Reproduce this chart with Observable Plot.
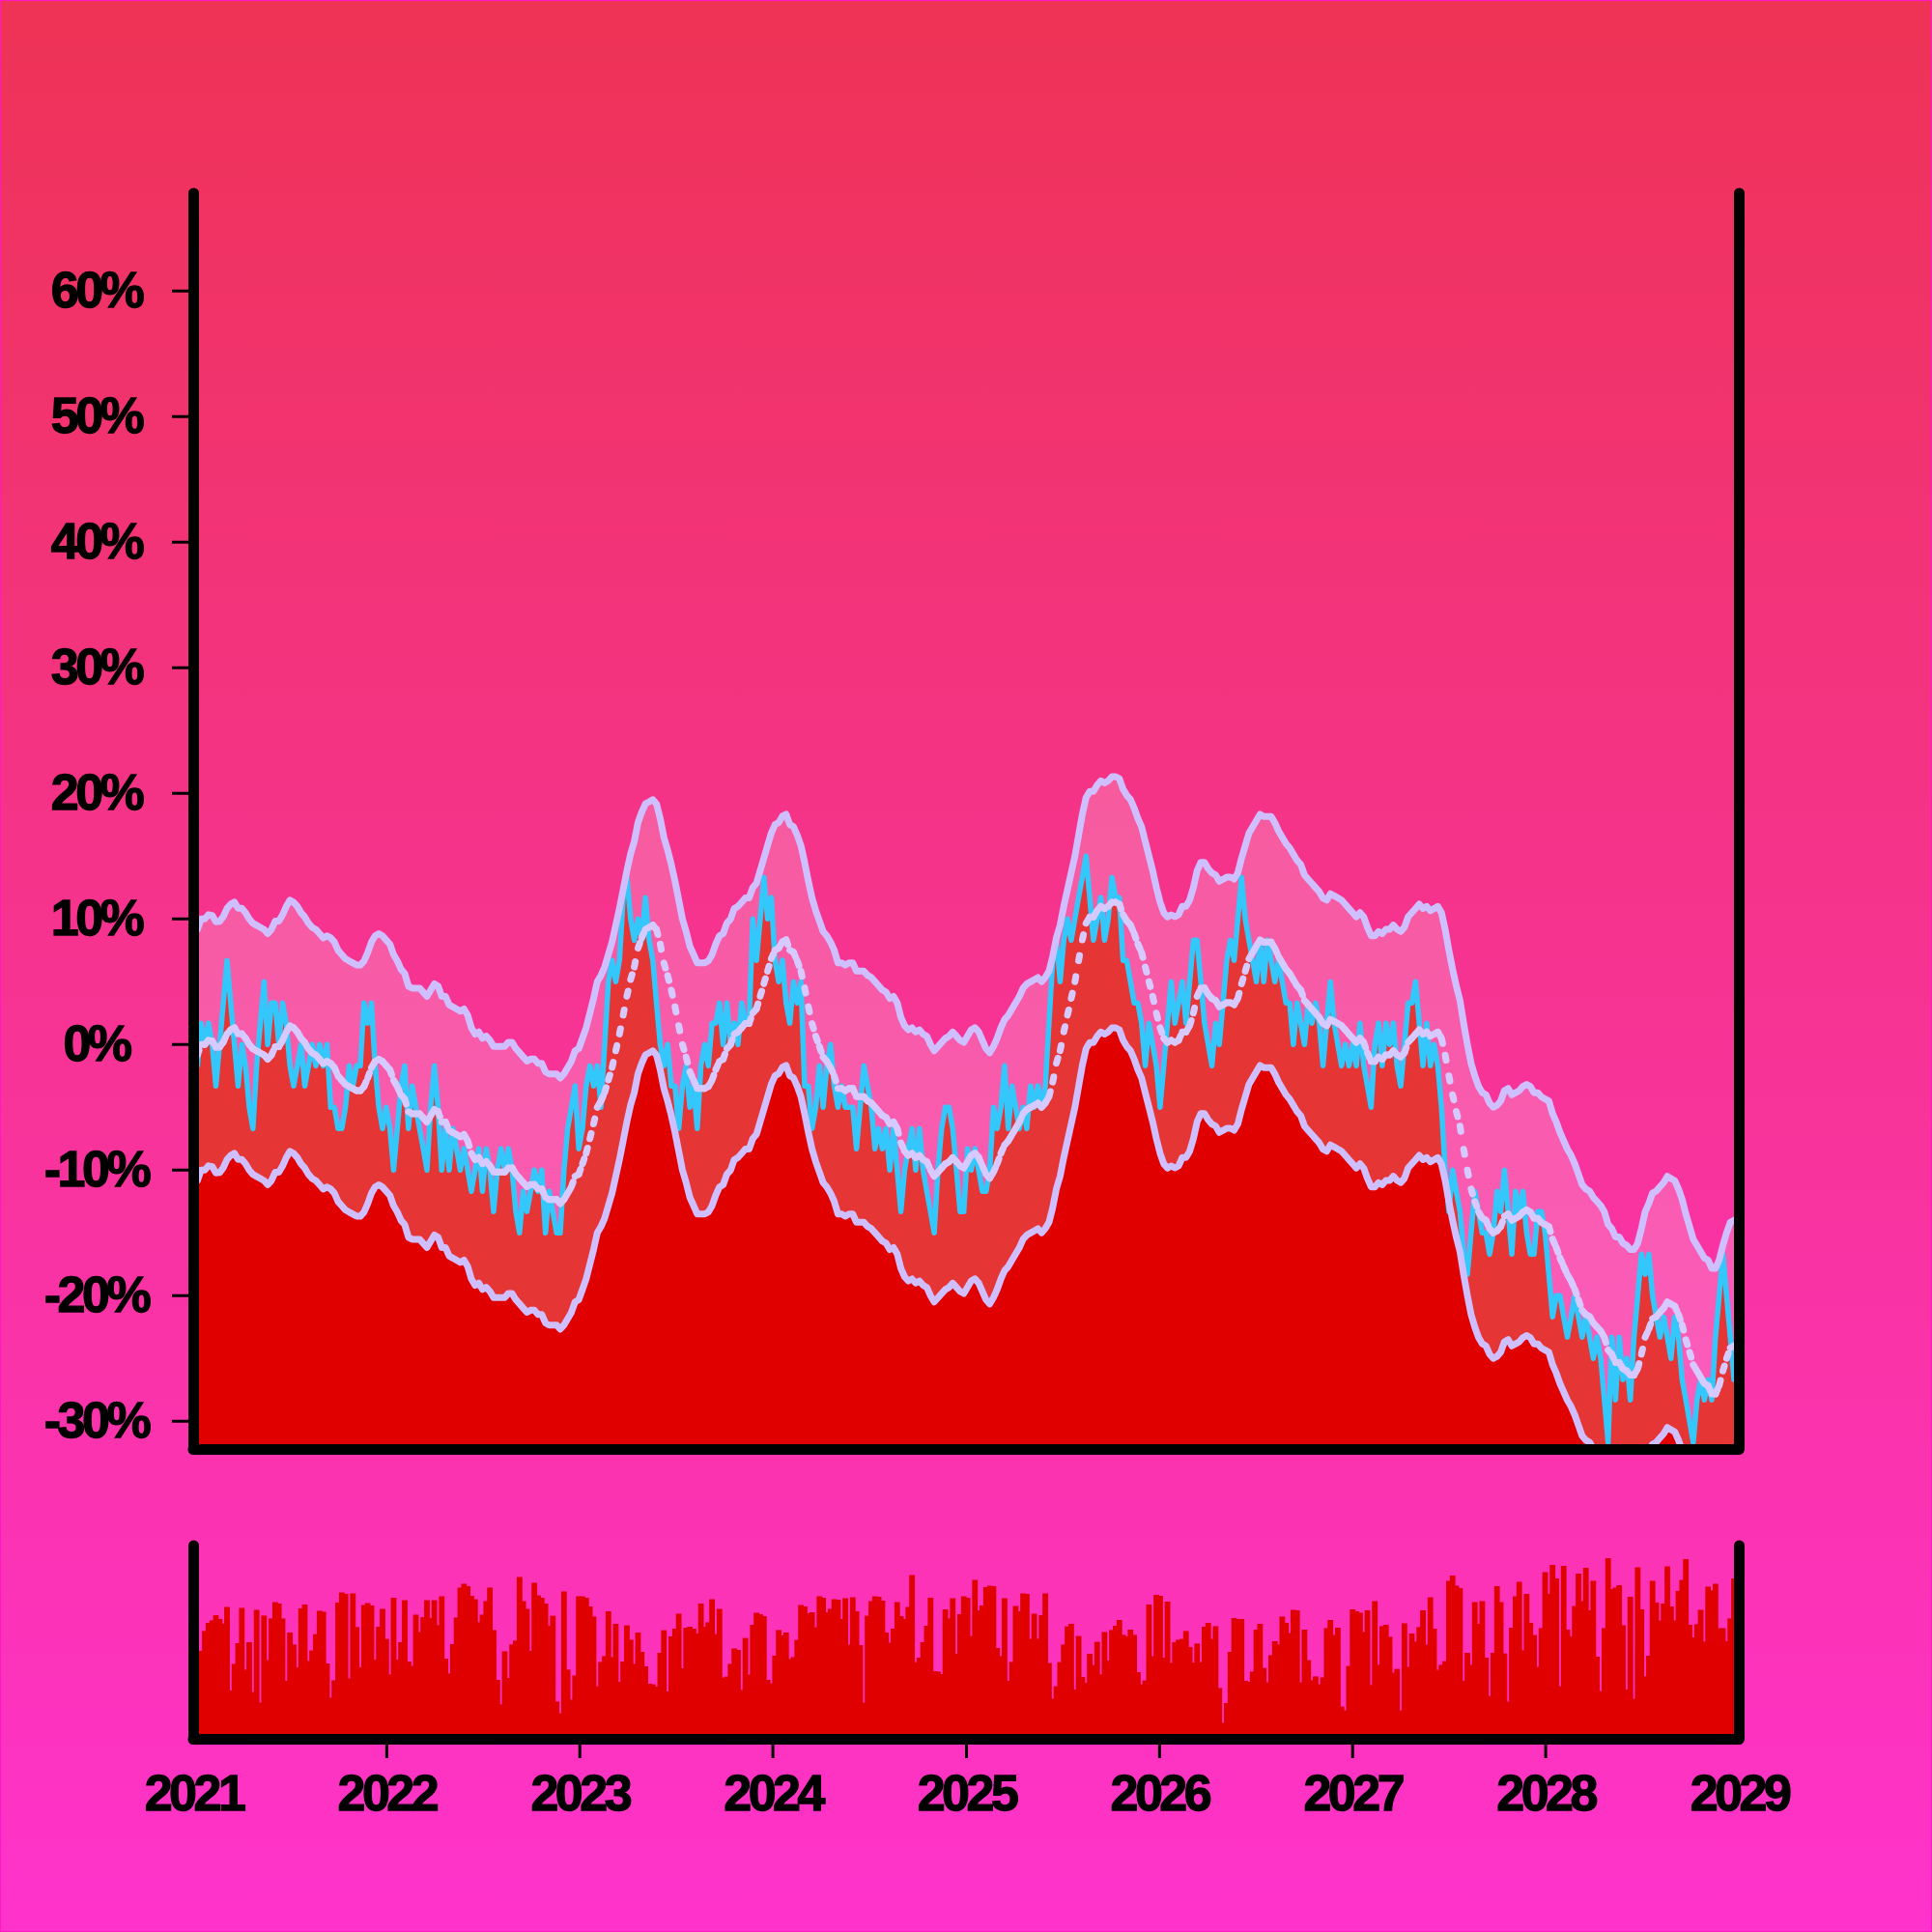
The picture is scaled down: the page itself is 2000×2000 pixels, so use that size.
<!DOCTYPE html>
<html>
<head>
<meta charset="utf-8">
<script src="https://cdn.jsdelivr.net/npm/d3@7"></script>
<script src="https://cdn.jsdelivr.net/npm/@observablehq/plot@0.6"></script>
<style>
html, body { margin: 0; padding: 0; }
#chart { position: relative; width: 2000px; height: 2000px; overflow: hidden;
  background: linear-gradient(to bottom, #ee3355 0%, #ff33cc 100%);
  box-shadow: inset 0 0 0 1px #ff18c8; }
#chart svg { position: absolute; left: 0; }
#chart svg text { letter-spacing: -3.5px; stroke: black; stroke-width: 1.3px; paint-order: stroke; }
</style>
</head>
<body>
<div id="chart"></div>
<script>
// weekly series starting 2021-01-01
const startDay = "2021-01-01";
const changePct = [
  0, -1.7, 1.7, 0, 1.7, 0, -3.3, 0, 3.3, 6.7,
  3.3, 0, -3.3, 0, -1.7, -5, -6.7, -1.7, 1.7, 5,
  0, 3.3, 3.3, 0, 3.3, 1.7, -1.7, -3.3, -1.7, 0,
  -3.3, -1.7, 0, -1.7, 0, -1.7, 0, -5, -5, -6.7,
  -6.7, -5, -1.7, -3.3, -1.7, -1.7, 3.3, 1.7, 3.3, -1.7,
  -5, -6.7, -5, -6.7, -10, -6.7, -3.3, -1.7, -6.7, -3.3,
  -5, -6.7, -8.3, -10, -5, -1.7, -5, -10, -6.7, -10,
  -6.7, -8.3, -10, -8.3, -10, -11.7, -10, -8.3, -11.7, -8.3,
  -10, -13.3, -10, -8.3, -10, -8.3, -10, -13.3, -15, -11.7,
  -13.3, -11.7, -10, -11.7, -10, -15, -11.7, -13.3, -15, -15,
  -10, -6.7, -5, -3.3, -8.3, -6.7, -3.3, -1.7, -3.3, -1.7,
  -5, 0, 5, 6.7, 5, 6.7, 11.7, 13.3, 10, 8.3,
  10, 8.3, 11.7, 8.3, 6.7, 3.3, 0, -1.7, 0, -3.3,
  -3.3, -6.7, -3.3, -1.7, -5, -3.3, -6.7, -1.7, 0, -1.7,
  1.7, 1.7, 3.3, 0, 3.3, 0, 1.7, 0, 3.3, 1.7,
  1.7, 10, 6.7, 10, 13.3, 10, 11.7, 6.7, 5, 6.7,
  3.3, 1.7, 5, 3.3, 5, -3.3, -3.3, -6.7, -5, -1.7,
  -5, -1.7, 0, -3.3, -5, -3.3, -5, -5, -5, -8.3,
  -5, -1.7, -3.3, -5, -8.3, -6.7, -8.3, -6.7, -10, -6.7,
  -10, -13.3, -10, -8.3, -6.7, -10, -6.7, -10, -11.7, -13.3,
  -15, -10, -6.7, -5, -5, -6.7, -10, -13.3, -13.3, -8.3,
  -10, -8.3, -10, -11.7, -11.7, -10, -5, -6.7, -5, -1.7,
  -6.7, -3.3, -5, -6.7, -5, -6.7, -3.3, -5, -3.3, -5,
  -3.3, 1.7, 6.7, 8.3, 5, 8.3, 10, 8.3, 10, 11.7,
  13.3, 15, 11.7, 8.3, 10, 11.7, 8.3, 10, 13.3, 11.7,
  11.7, 6.7, 6.7, 5, 3.3, 3.3, 1.7, -1.7, 1.7, 0,
  -1.7, -5, -1.7, 1.7, 5, 1.7, 3.3, 5, 1.7, 5,
  8.3, 8.3, 5, 1.7, 0, -1.7, 1.7, 0, 3.3, 6.7,
  8.3, 6.7, 10, 13.3, 10, 8.3, 6.7, 5, 8.3, 5,
  8.3, 6.7, 5, 6.7, 5, 3.3, 3.3, 0, 3.3, 1.7,
  0, 3.3, 1.7, 3.3, 1.7, -1.7, 1.7, 5, 1.7, 0,
  -1.7, 0, -1.7, 0, -1.7, 1.7, -1.7, -3.3, -5, 0,
  1.7, -1.7, 1.7, 0, 1.7, -1.7, -3.3, 0, 3.3, 3.3,
  5, 1.7, -1.7, 1.7, -1.7, 0, -1.7, -5, -10, -13.3,
  -10, -11.7, -13.3, -16.7, -18.3, -15, -11.7, -13.3, -15, -15,
  -16.7, -15, -11.7, -13.3, -10, -13.3, -16.7, -11.7, -13.3, -11.7,
  -15, -16.7, -16.7, -13.3, -13.3, -15, -18.3, -21.7, -20, -20,
  -21.7, -23.3, -21.7, -20, -21.7, -23.3, -21.7, -23.3, -25, -23.3,
  -25, -28.3, -31.7, -23.3, -28.3, -23.3, -26.7, -25, -28.3, -23.3,
  -20, -16.7, -18.3, -16.7, -20, -21.7, -23.3, -21.7, -23.3, -25,
  -21.7, -23.3, -26.7, -28.3, -30, -31.7, -28.3, -26.7, -28.3, -26.7,
  -28.3, -23.3, -20, -16.7, -20, -23.3, -26.7, -25
];
const volume = [
  45, 45, 45.5, 55.8, 60, 61.3, 64, 62, 59.7, 68.3,
  25, 38.8, 49.5, 67.7, 35.8, 50, 24.2, 66.8, 18.7, 63.8,
  40.7, 62.3, 70.8, 70, 62.3, 30, 55, 48.8, 37, 67.5,
  69.5, 40.3, 45.7, 54.2, 66.2, 65.7, 39, 21.3, 30.3, 70.5,
  75.8, 75, 31.3, 75.3, 57.8, 37, 69.2, 70.3, 69, 41,
  58, 67.3, 51.7, 33.3, 73, 41, 50, 71.7, 40, 37.7,
  64.3, 55.3, 63, 71.7, 62.5, 71.8, 58.8, 73.8, 41.5, 33.8,
  49, 62.8, 78.3, 80.2, 79, 74, 72.3, 60.3, 64.3, 71.2,
  78.3, 56.3, 30.5, 17.8, 45.3, 31.5, 48.8, 50.8, 83.8, 71.3,
  67.2, 45.5, 80.8, 74.2, 73, 70, 58.5, 63.7, 19.3, 13.2,
  76.3, 35.8, 20.3, 32.8, 73.7, 73.8, 73, 68.5, 63.3, 27.2,
  39.8, 42.8, 66, 42.3, 59.5, 29.5, 40, 58.7, 51.3, 38.8,
  55, 45, 37.5, 28.5, 28.2, 27, 44.5, 56.2, 24.5, 53,
  57, 64.7, 36.5, 57.5, 58, 57, 54.5, 70, 58, 60.3,
  72.2, 54.2, 67.3, 31.7, 32.2, 38.8, 46.8, 46, 25.3, 52.2,
  33.2, 59, 65.3, 64.5, 63.5, 30.5, 28.7, 43, 56.3, 53.5,
  55, 41.3, 42.3, 51.2, 69.3, 68.5, 65, 65.5, 57.7, 73.8,
  73, 65.5, 67.3, 72.3, 72, 62, 72.8, 48.7, 73.3, 66,
  48.5, 18.7, 63.7, 71.3, 73.8, 73.5, 71.5, 55, 49.7, 57,
  70.7, 63.5, 62, 68.3, 84.8, 39.7, 42, 50, 58.5, 73,
  35, 34.8, 33.5, 67, 62.3, 72.8, 44, 64.5, 73.7, 73,
  53.2, 82.3, 66.5, 69, 78.5, 79.2, 79, 47, 42.8, 72.8,
  30, 39.8, 68.8, 66, 75.3, 75, 51.7, 64.7, 51.8, 64,
  75.2, 39.2, 20.7, 27.2, 39.7, 48.8, 58.2, 59.5, 25.5, 53.2,
  32, 29, 44, 38.2, 50.2, 33.3, 55.3, 40.5, 56.3, 58.5,
  61.5, 53.8, 53, 56.5, 53.8, 34.5, 28.2, 30.2, 69.5, 42.8,
  74.5, 74, 42, 71, 39.3, 50, 51.3, 51.7, 55.8, 47.5,
  39.5, 49.3, 39.7, 58, 60, 51.7, 58.3, 26.3, 8.3, 18.5,
  45, 62.5, 62, 62, 30, 29.5, 34.8, 56.5, 59.5, 36.7,
  29.2, 43.3, 50.5, 48.8, 63.3, 60, 54.7, 66.8, 66.5, 29.2,
  56.5, 40.7, 30.3, 32.3, 28.2, 31.8, 57.3, 61.5, 53.7, 57.5,
  16.7, 14.7, 37.7, 67, 66, 65.3, 55.3, 66.5, 27.8, 71.2,
  38.3, 58.3, 59, 52.8, 34.2, 36.2, 14.7, 59.8, 37.2, 54.5,
  50.3, 57.8, 66.5, 48.7, 73.2, 57, 35.7, 38.3, 40.2, 81.7,
  84.5, 79.3, 78, 30, 44.5, 38.3, 70.8, 59.5, 71.3, 42,
  22.2, 44.5, 79, 70.7, 44.2, 19.2, 57.5, 73.7, 81.3, 45.8,
  75, 60, 53.7, 37.2, 57.3, 86.3, 75, 90, 83, 27.2,
  89.5, 56.5, 53, 68.7, 85.5, 71.3, 88.5, 66.5, 81.8, 42.5,
  24.7, 57.3, 93.5, 77.5, 78.3, 79.5, 58.8, 25.5, 73.5, 20.7,
  88.8, 67, 32.3, 43, 81.8, 70.5, 61.2, 70, 89.3, 68.5,
  61.3, 76.5, 82.2, 93, 59, 52.5, 59.3, 66.7, 50.3, 78.8,
  76.7, 80.3, 57.2, 57.3, 50.5, 62.3, 83, 60.5
];
const yTicks = [-30, -20, -10, 0, 10, 20, 30, 40, 50, 60];
const yearTicks = [2021, 2022, 2023, 2024, 2025, 2026, 2027, 2028, 2029];
const yearTickMarks = [2022, 2023, 2024, 2025, 2026, 2027, 2028];

const t0 = new Date(startDay + "T00:00:00Z");
const rows = changePct.map((v, i) => ({date: d3.utcDay.offset(t0, 7 * i), v, vol: volume[i]}));

const X0 = new Date(Date.UTC(2021, 0, 1));
const X1 = new Date(Date.UTC(2029, 0, 1));
const Y0 = -32.25, Y1 = 67.75;
const K = 10, BAND = 10;
const roll = (off) => Plot.window({k: K, anchor: "end", reduce: (a) => d3.mean(a) + off});
const yearDate = (y) => new Date(Date.UTC(y, 0, 1));

const FONT = "'Liberation Sans', Arial, Helvetica, sans-serif";
const LAV = "#cfbfff";

const main = Plot.plot({
  width: 2000, height: 1560,
  marginTop: 200, marginBottom: 60, marginLeft: 200, marginRight: 200,
  style: {background: "transparent", fontFamily: FONT, color: "black", overflow: "visible"},
  x: {type: "utc", domain: [X0, X1], axis: null},
  y: {domain: [Y0, Y1]},
  marks: [
    Plot.areaY(rows, Plot.map({y2: roll(BAND)}, {x: "date", y1: Y0, y2: "v", fill: "#ffffff", fillOpacity: 0.2, clip: true})),
    Plot.areaY(rows, {x: "date", y1: Y0, y2: "v", fill: "#e63535", clip: true}),
    Plot.areaY(rows, Plot.map({y2: roll(-BAND)}, {x: "date", y1: Y0, y2: "v", fill: "#e00000", clip: true})),
    Plot.lineY(rows, {x: "date", y: "v", stroke: "#33c7fc", strokeWidth: 5.5, clip: true}),
    Plot.lineY(rows, Plot.map({y: roll(BAND)}, {x: "date", y: "v", stroke: LAV, strokeWidth: 7, clip: true})),
    Plot.lineY(rows, Plot.map({y: roll(-BAND)}, {x: "date", y: "v", stroke: LAV, strokeWidth: 7, clip: true})),
    Plot.lineY(rows, Plot.map({y: roll(0)}, {x: "date", y: "v", z: null,
      stroke: (d, i) => (i % 2 ? "#d6c9ff" : "#d6caff"),
      strokeWidth: 7, strokeDasharray: "5.5,20", strokeLinecap: "round", clip: true})),
    Plot.axisY(yTicks, {anchor: "left", tickSize: 22, tickPadding: 79, textAnchor: "middle",
      tickFormat: (d) => `${d}%`, fontSize: 52, fontWeight: "bold", strokeWidth: 3, label: null}),
    Plot.ruleX([X0, X1], {y1: Y0, y2: Y1, stroke: "black", strokeWidth: 11, strokeLinecap: "round"}),
    Plot.ruleY([Y0], {x1: X0, x2: X1, stroke: "black", strokeWidth: 11, strokeLinecap: "round"})
  ]
});

const vol = Plot.plot({
  width: 2000, height: 440,
  marginTop: 40, marginBottom: 200, marginLeft: 200, marginRight: 200,
  style: {background: "transparent", fontFamily: FONT, color: "black", overflow: "visible"},
  x: {type: "utc", domain: [X0, X1]},
  y: {domain: [0, 100], axis: null},
  marks: [
    Plot.ruleX(rows, {x: "date", y1: 0, y2: "vol", stroke: "#e00000", strokeWidth: 5.8}),
    Plot.axisX(yearTickMarks.map(yearDate), {anchor: "bottom", tickSize: 20, tickFormat: () => "", strokeWidth: 3, label: null}),
    Plot.axisX(yearTicks.map(yearDate), {anchor: "bottom", tickSize: 0, tickPadding: 37,
      tickFormat: (d) => String(d.getUTCFullYear()), fontSize: 52, fontWeight: "bold", label: null}),
    Plot.ruleX([X0, X1], {y1: 0, y2: 100, stroke: "black", strokeWidth: 11, strokeLinecap: "round"}),
    Plot.ruleY([0], {x1: X0, x2: X1, stroke: "black", strokeWidth: 11, strokeLinecap: "round"})
  ]
});

const chart = document.getElementById("chart");
main.style.top = "0px";
vol.style.top = "1560px";
chart.appendChild(main);
chart.appendChild(vol);
</script>
</body>
</html>
